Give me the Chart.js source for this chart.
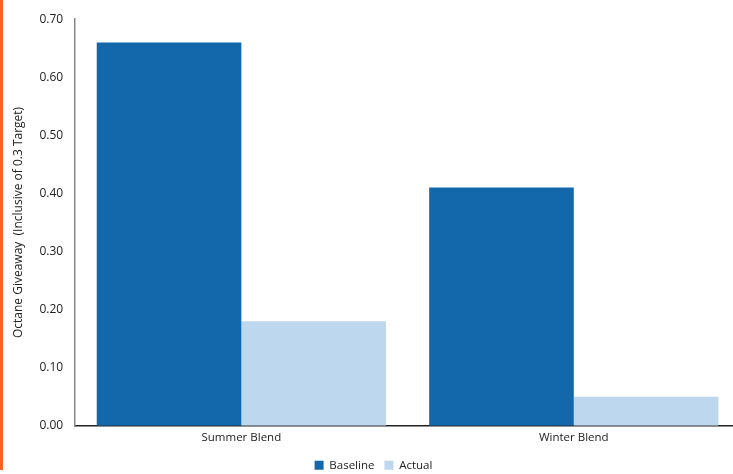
<!DOCTYPE html>
<html>
<head>
<meta charset="utf-8">
<script src="https://cdn.jsdelivr.net/npm/chart.js@4"></script>
<style>
  html, body { margin: 0; padding: 0; overflow: hidden; background: #fff; }
  #bar { position: absolute; left: 0; top: 0; width: 3px; height: 470px; background: #F26522; }
  #wrap { position: absolute; left: 0; top: 0; width: 740px; height: 481px; }
</style>
</head>
<body>
<div id="bar"></div>
<div id="wrap"><canvas id="myChart"></canvas></div>
<script>
  const categories = ['Summer Blend', 'Winter Blend']
  const baseline = [0.66, 0.41]
  const actual = [0.18, 0.05]
  const yTicks = [0, 0.1, 0.2, 0.3, 0.4, 0.5, 0.6, 0.7]

  Chart.defaults.font.family = "'Open Sans', sans-serif"
  Chart.defaults.color = '#222'

  var ctx = document.getElementById('myChart').getContext('2d')
  var chart = new Chart(ctx, {
    type: 'bar',
    data: {
      labels: categories,
      datasets: [{
        label: 'Baseline',
        backgroundColor: '#1367AB',
        data: baseline
      }, {
        label: 'Actual',
        backgroundColor: '#BDD7EE',
        data: actual
      }]
    },
    options: {
      responsive: true,
      maintainAspectRatio: false,
      animation: false,
      layout: { padding: { top: 10, left: 7, right: 0, bottom: 0 } },
      datasets: { bar: { categoryPercentage: 0.87, barPercentage: 1.0 } },
      plugins: {
        legend: {
          position: 'bottom',
          labels: { boxWidth: 9, boxHeight: 9, padding: 10, font: { size: 11.5 } }
        },
        tooltip: { enabled: false }
      },
      scales: {
        x: {
          grid: { display: false, drawTicks: false },
          border: { color: '#222', width: 1.5 },
          ticks: { padding: 5, font: { size: 11.5 } }
        },
        y: {
          min: 0, max: 0.7,
          afterBuildTicks: function (axis) { axis.ticks = yTicks.map(v => ({ value: v })) },
          grid: { display: false, drawTicks: false },
          border: { color: '#888', width: 1.5 },
          ticks: { padding: 12, font: { size: 12 }, callback: v => v.toFixed(2) },
          title: { display: true, text: 'Octane Giveaway  (Inclusive of 0.3 Target)', font: { size: 12 }, padding: { bottom: 2 } }
        }
      }
    }
  })
</script>
</body>
</html>
